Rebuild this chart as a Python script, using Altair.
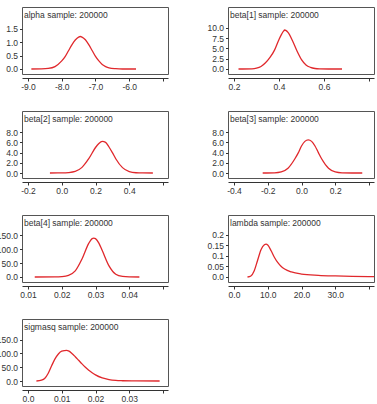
import altair as alt
import pandas as pd

RED = "#e0282c"
INK = "#333333"
FONT = "Liberation Sans"
SAMPLE = "200000"

names = ["alpha", "beta[1]", "beta[2]", "beta[3]", "beta[4]", "lambda", "sigmasq"]

alpha_x = [-8.9, -8.6, -8.4, -8.2, -8.0, -7.9, -7.8, -7.7, -7.6, -7.5, -7.45, -7.4, -7.3, -7.2, -7.1, -7.0, -6.9, -6.8, -6.7, -6.6, -6.4, -6.2, -5.8]
alpha_y = [0.0, 0.005, 0.02, 0.09, 0.30, 0.46, 0.68, 0.90, 1.08, 1.19, 1.21, 1.19, 1.09, 0.91, 0.69, 0.47, 0.30, 0.17, 0.09, 0.04, 0.01, 0.0, 0.0]

beta1_x = [0.22, 0.28, 0.30, 0.32, 0.34, 0.36, 0.38, 0.40, 0.41, 0.42, 0.425, 0.43, 0.44, 0.46, 0.48, 0.50, 0.52, 0.54, 0.56, 0.58, 0.62, 0.68]
beta1_y = [0.0, 0.05, 0.2, 0.6, 1.5, 2.8, 4.6, 7.2, 8.3, 9.2, 9.5, 9.4, 8.9, 6.9, 4.4, 2.3, 1.0, 0.4, 0.12, 0.03, 0.0, 0.0]

beta2_x = [-0.07, 0.0, 0.04, 0.08, 0.12, 0.16, 0.20, 0.22, 0.24, 0.26, 0.28, 0.30, 0.32, 0.36, 0.40, 0.44, 0.48, 0.54]
beta2_y = [0.0, 0.02, 0.08, 0.3, 1.1, 2.8, 5.0, 5.8, 6.2, 6.0, 5.1, 4.0, 2.8, 1.05, 0.27, 0.05, 0.01, 0.0]

beta3_x = [-0.23, -0.16, -0.12, -0.08, -0.04, -0.02, 0.0, 0.02, 0.04, 0.06, 0.08, 0.10, 0.12, 0.16, 0.20, 0.24, 0.30, 0.36]
beta3_y = [0.0, 0.03, 0.21, 0.93, 2.75, 3.9, 5.3, 6.2, 6.5, 6.2, 5.3, 4.0, 2.75, 0.93, 0.21, 0.03, 0.0, 0.0]

beta4_x = [0.012, 0.018, 0.020, 0.022, 0.024, 0.026, 0.028, 0.029, 0.0295, 0.030, 0.031, 0.032, 0.034, 0.036, 0.038, 0.040, 0.043]
beta4_y = [0.0, 0.3, 1.5, 6.0, 22.0, 65.0, 121.0, 138.0, 140.0, 138.0, 122.0, 95.0, 40.0, 10.0, 2.0, 0.3, 0.0]

lambda_x = [4.0, 5.0, 6.0, 7.0, 8.0, 9.0, 9.5, 10.0, 11.0, 12.0, 13.0, 14.0, 15.0, 17.0, 20.0, 25.0, 30.0, 35.0, 40.0, 45.0]
lambda_y = [0.0, 0.005, 0.03, 0.08, 0.13, 0.153, 0.156, 0.152, 0.125, 0.093, 0.068, 0.050, 0.038, 0.024, 0.014, 0.008, 0.005, 0.003, 0.002, 0.0015]

sigmasq_x = [0.0025, 0.004, 0.005, 0.006, 0.007, 0.008, 0.009, 0.010, 0.0115, 0.012, 0.013, 0.014, 0.015, 0.016, 0.017, 0.018, 0.019, 0.020, 0.022, 0.024, 0.026, 0.028, 0.032, 0.039]
sigmasq_y = [0.0, 3.0, 10.0, 28.0, 55.0, 80.0, 98.0, 108.0, 111.0, 109.0, 100.0, 88.0, 75.0, 62.0, 50.0, 39.0, 30.0, 22.0, 11.0, 5.0, 2.0, 1.0, 0.3, 0.0]

# axis ticks and labels (last x tick is unlabeled)
alpha_xt = [-9.0, -8.0, -7.0, -6.0, -5.0]
alpha_xl = ["-9.0", "-8.0", "-7.0", "-6.0", ""]
alpha_yt = [0.0, 0.5, 1.0, 1.5]
alpha_yl = ["0.0", "0.5", "1.0", "1.5"]
alpha_ydom = [-0.187, 2.31]

beta1_xt = [0.2, 0.4, 0.6, 0.8]
beta1_xl = ["0.2", "0.4", "0.6", ""]
beta1_yt = [0.0, 2.5, 5.0, 7.5, 10.0]
beta1_yl = ["0.0", "2.5", "5.0", "7.5", "10.0"]
beta1_ydom = [-1.22, 15.1]

beta2_xt = [-0.2, 0.0, 0.2, 0.4, 0.6]
beta2_xl = ["-0.2", "0.0", "0.2", "0.4", ""]
beta2_yt = [0.0, 2.0, 4.0, 6.0, 8.0]
beta2_yl = ["0.0", "2.0", "4.0", "6.0", "8.0"]
beta2_ydom = [-0.98, 12.16]

beta3_xt = [-0.4, -0.2, 0.0, 0.2, 0.4]
beta3_xl = ["-0.4", "-0.2", "0.0", "0.2", ""]
beta3_yt = [0.0, 2.0, 4.0, 6.0, 8.0]
beta3_yl = ["0.0", "2.0", "4.0", "6.0", "8.0"]
beta3_ydom = [-0.98, 12.16]

beta4_xt = [0.01, 0.02, 0.03, 0.04, 0.05]
beta4_xl = ["0.01", "0.02", "0.03", "0.04", ""]
beta4_yt = [0.0, 50.0, 100.0, 150.0]
beta4_yl = ["0.0", "50.0", "100.0", "150.0"]
beta4_ydom = [-18.0, 223.0]

lambda_xt = [0.0, 10.0, 20.0, 30.0, 40.0]
lambda_xl = ["0.0", "10.0", "20.0", "30.0", ""]
lambda_yt = [0.0, 0.05, 0.1, 0.15, 0.2]
lambda_yl = ["0.0", "0.05", "0.1", "0.15", "0.2"]
lambda_ydom = [-0.0238, 0.295]

sigmasq_xt = [0.0, 0.01, 0.02, 0.03, 0.04]
sigmasq_xl = ["0.0", "0.01", "0.02", "0.03", ""]
sigmasq_yt = [0.0, 50.0, 100.0, 150.0]
sigmasq_yl = ["0.0", "50.0", "100.0", "150.0"]
sigmasq_ydom = [-18.1, 224.6]

W, H = 146, 67
LEFT_IN, RIGHT_IN = 6.0, 5.0
FS = 8.5


def label_expr(ticks, labels):
    eps = (ticks[-1] - ticks[0]) * 0.01
    expr = "''"
    for t, l in reversed(list(zip(ticks, labels))):
        expr = f"(abs(datum.value - ({t})) < {eps}) ? '{l}' : ({expr})"
    return expr


def panel(name, xs, ys, xt, xl, yt, yl, ydom):
    span = xt[-1] - xt[0]
    inner = W - LEFT_IN - RIGHT_IN
    xdom = [xt[0] - LEFT_IN / inner * span, xt[-1] + RIGHT_IN / inner * span]
    df = pd.DataFrame({"x": xs, "y": ys})
    line = alt.Chart(df).mark_line(color=RED, strokeWidth=1.3, clip=True, interpolate="monotone").encode(
        x=alt.X("x:Q", scale=alt.Scale(domain=xdom, nice=False, zero=False),
                axis=alt.Axis(values=xt, labelExpr=label_expr(xt, xl), title=None, grid=False,
                              offset=4, tickSize=3, labelPadding=1, domainColor=INK, tickColor=INK,
                              labelColor=INK, labelFont=FONT, labelFontSize=FS, labelFlush=False,
                              labelOverlap=False)),
        y=alt.Y("y:Q", scale=alt.Scale(domain=ydom, nice=False, zero=False),
                axis=alt.Axis(values=yt, labelExpr=label_expr(yt, yl), title=None, grid=False,
                              domain=False, tickSize=2.5, labelPadding=2, tickColor=INK,
                              labelColor=INK, labelFont=FONT, labelFontSize=FS, labelFlush=False,
                              labelOverlap=False)),
    )
    title = alt.Chart(pd.DataFrame({"t": [f"{name} sample: {SAMPLE}"]})).mark_text(
        align="left", baseline="middle", font=FONT, fontSize=FS, color=INK
    ).encode(text="t:N", x=alt.value(2), y=alt.value(8))
    return alt.layer(line, title).properties(width=W, height=H)


panels = [
    panel(names[0], alpha_x, alpha_y, alpha_xt, alpha_xl, alpha_yt, alpha_yl, alpha_ydom),
    panel(names[1], beta1_x, beta1_y, beta1_xt, beta1_xl, beta1_yt, beta1_yl, beta1_ydom),
    panel(names[2], beta2_x, beta2_y, beta2_xt, beta2_xl, beta2_yt, beta2_yl, beta2_ydom),
    panel(names[3], beta3_x, beta3_y, beta3_xt, beta3_xl, beta3_yt, beta3_yl, beta3_ydom),
    panel(names[4], beta4_x, beta4_y, beta4_xt, beta4_xl, beta4_yt, beta4_yl, beta4_ydom),
    panel(names[5], lambda_x, lambda_y, lambda_xt, lambda_xl, lambda_yt, lambda_yl, lambda_ydom),
    panel(names[6], sigmasq_x, sigmasq_y, sigmasq_xt, sigmasq_xl, sigmasq_yt, sigmasq_yl, sigmasq_ydom),
]

chart = alt.concat(*panels, columns=2, spacing={"row": 37, "column": 60}, bounds="flush").properties(
    padding={"left": -5, "top": 6, "right": 0, "bottom": 0},
    background="white",
).configure_view(stroke="#555555", strokeWidth=1)

chart.save("out.html", embed_options={"renderer": "svg", "actions": False})
